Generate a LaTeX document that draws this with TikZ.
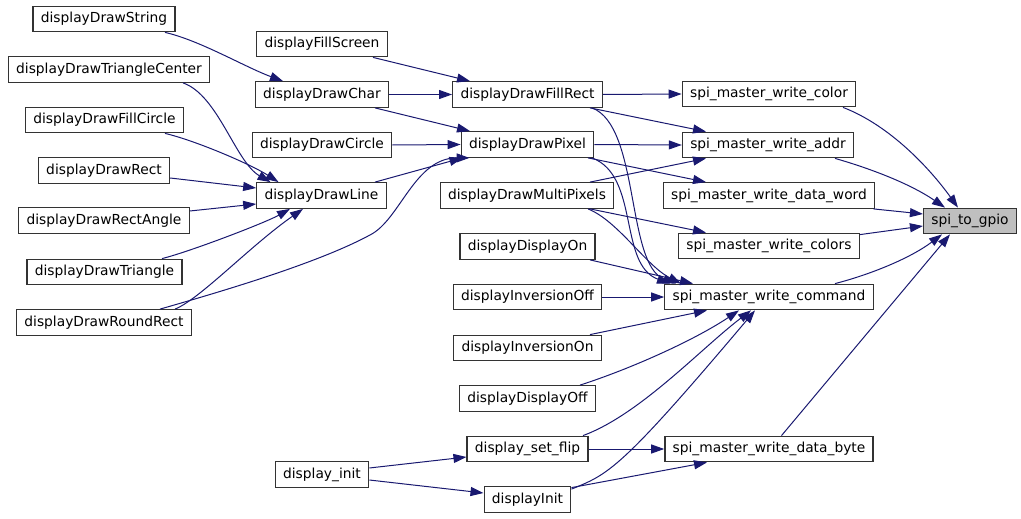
\documentclass[tikz,border=0pt]{standalone}
\usepackage{fontspec}
\setmainfont{DejaVu Sans}
\usepackage{tikz}
\usetikzlibrary{arrows.meta, positioning}
\definecolor{edgeblue}{HTML}{191970}
\definecolor{boxline}{HTML}{333333}
\definecolor{rootfill}{HTML}{BFBFBF}
\tikzstyle{fn} = [rectangle, draw=boxline, line width=1.3pt, fill=white, minimum height=25.5pt, inner xsep=7.8pt, inner ysep=0pt, font=\fontsize{13.8}{16}\selectfont, text centered]
\tikzstyle{root} = [fn, fill=rootfill]
\tikzstyle{arrow} = [draw=edgeblue, line width=1pt, -{Triangle[length=13pt,width=9pt]}, edgeblue]

\begin{document}
\begin{tikzpicture}[x=1pt, y=-1pt]
        \useasboundingbox (0,0) rectangle (1021,519);

        % Kolom 1: pemanggil paling luar
        \node (dstr) [fn] at (104,19) {displayDrawString};
        \node (dtric) [fn] at (109,69.5) {displayDrawTriangleCenter};
        \node (dfcirc) [fn] at (104.5,120) {displayDrawFillCircle};
        \node (drect) [fn] at (104,170.5) {displayDrawRect};
        \node (drang) [fn] at (104,220.5) {displayDrawRectAngle};
        \node (dtri) [fn] at (104.5,272) {displayDrawTriangle};
        \node (drrect) [fn] at (104,322.5) {displayDrawRoundRect};

        % Kolom 2
        \node (fscr) [fn] at (322,44) {displayFillScreen};
        \node (dchar) [fn] at (322,94.5) {displayDrawChar};
        \node (dcirc) [fn] at (322,145) {displayDrawCircle};
        \node (dline) [fn] at (321.5,195.5) {displayDrawLine};
        \node (dispinit) [fn] at (322,474.5) {display\_init};

        % Kolom 3
        \node (frect) [fn] at (527.5,94.5) {displayDrawFillRect};
        \node (dpix) [fn] at (527.5,144.5) {displayDrawPixel};
        \node (dmpix) [fn] at (527,195.5) {displayDrawMultiPixels};
        \node (don) [fn] at (527.5,246.5) {displayDisplayOn};
        \node (invoff) [fn] at (527.5,297) {displayInversionOff};
        \node (invon) [fn] at (527.5,348) {displayInversionOn};
        \node (doff) [fn] at (527.5,398.5) {displayDisplayOff};
        \node (sflip) [fn] at (527.5,449) {display\_set\_flip};
        \node (dinit) [fn] at (527.5,499.5) {displayInit};

        % Kolom 4: fungsi SPI
        \node (wcolor) [fn] at (769,94) {spi\_master\_write\_color};
        \node (waddr) [fn] at (768,145) {spi\_master\_write\_addr};
        \node (wword) [fn] at (769,195.5) {spi\_master\_write\_data\_word};
        \node (wcolors) [fn] at (769,246) {spi\_master\_write\_colors};
        \node (wcmd) [fn] at (769,297) {spi\_master\_write\_command};
        \node (wbyte) [fn] at (769,449) {spi\_master\_write\_data\_byte};

        % Kolom 5: fungsi akhir
        \node (gpio) [root] at (970,221) {spi\_to\_gpio};

        % Garis Panah kolom 1 -> kolom 2
        \draw [arrow] ([xshift=61pt]dstr.south) .. controls +(35,8) and +(-38,-14) .. ([xshift=-39pt]dchar.north);
        \draw [arrow] ([xshift=74pt]dtric.south) .. controls +(35,12) and +(-35,-20) .. ([xshift=-51pt]dline.north);
        \draw [arrow] ([xshift=60.5pt]dfcirc.south) .. controls +(30,7) and +(-28,-18) .. ([xshift=-43pt]dline.north);
        \draw [arrow] ([yshift=-7.5pt]drect.east) -- ([yshift=7.5pt]dline.west);
        \draw [arrow] ([yshift=9.5pt]drang.east) -- ([yshift=-8.5pt]dline.west);
        \draw [arrow] ([xshift=57.5pt]dtri.north) .. controls +(28,-7) and +(-25,14) .. ([xshift=-31.5pt]dline.south);
        \draw [arrow] ([xshift=71pt]drrect.north) .. controls +(25,-10) and +(-53,37) .. ([xshift=-18.5pt]dline.south);
        \draw [arrow] ([xshift=56pt]drrect.north) .. controls +(70,-20) and +(-50,27) .. (370,235) .. controls +(30,-15) and +(-55,0) .. ([xshift=-58pt]dpix.south);

        % Garis Panah kolom 2 -> kolom 3
        \draw [arrow] ([xshift=51pt]fscr.south) -- ([xshift=-57.5pt]frect.north);
        \draw [arrow] (dchar.east) -- (frect.west);
        \draw [arrow] ([xshift=53pt]dchar.south) -- ([xshift=-57.5pt]dpix.north);
        \draw [arrow] (dcirc.east) -- (dpix.west);
        \draw [arrow] ([xshift=53.5pt]dline.north) -- ([xshift=-65pt]dpix.south);
        \draw [arrow] ([yshift=6.5pt]dispinit.east) -- ([yshift=-8pt]sflip.west);
        \draw [arrow] ([yshift=-5.5pt]dispinit.east) -- ([yshift=6.5pt]dinit.west);

        % Garis Panah kolom 3 -> kolom 4
        \draw [arrow] (frect.east) -- (wcolor.west);
        \draw [arrow] ([xshift=62.5pt]frect.south) -- ([xshift=-62pt]waddr.north);
        \draw [arrow] ([xshift=64.5pt]frect.south) .. controls +(48,18) and +(-50,-19) .. ([xshift=-93pt]wcmd.north);
        \draw [arrow] (dpix.east) -- (waddr.west);
        \draw [arrow] ([xshift=60.5pt]dpix.south) -- ([xshift=-63pt]wword.north);
        \draw [arrow] ([xshift=64.5pt]dpix.south) .. controls +(48,18) and +(-52,-19) .. ([xshift=-99pt]wcmd.north);
        \draw [arrow] ([xshift=63pt]dmpix.north) -- ([xshift=-62pt]waddr.south);
        \draw [arrow] ([xshift=63pt]dmpix.south) -- ([xshift=-63pt]wcolors.north);
        \draw [arrow] ([xshift=61pt]dmpix.south) .. controls +(30,12) and +(-35,-18) .. ([xshift=-88pt]wcmd.north);
        \draw [arrow] ([xshift=62.5pt]don.south) -- ([xshift=-76pt]wcmd.north);
        \draw [arrow] (invoff.east) -- (wcmd.west);
        \draw [arrow] ([xshift=62.5pt]invon.north) -- ([xshift=-62pt]wcmd.south);
        \draw [arrow] ([xshift=52.5pt]doff.north) .. controls +(50,-16) and +(-45,30) .. ([xshift=-30pt]wcmd.south);
        \draw [arrow] ([xshift=55.5pt]sflip.north) .. controls +(57,-21) and +(-50,38) .. ([xshift=-18pt]wcmd.south);
        \draw [arrow] (sflip.east) -- (wbyte.west);
        \draw [arrow] ([yshift=-3pt]dinit.north east) .. controls +(37,-15) and +(-135,160) .. ([xshift=-14pt]wcmd.south);
        \draw [arrow] ([yshift=-1.5pt]dinit.north east) -- ([xshift=-62pt]wbyte.south);

        % Garis Panah kolom 4 -> spi_to_gpio
        \draw [arrow] ([xshift=74pt]wcolor.south) .. controls +(47,18) and +(-28,-39) .. ([xshift=-12pt]gpio.north);
        \draw [arrow] ([xshift=67pt]waddr.south) .. controls +(35,10) and +(-35,-24) .. ([xshift=-25pt]gpio.north);
        \draw [arrow] ([xshift=-2pt]wword.south east) -- ([yshift=7pt]gpio.west);
        \draw [arrow] ([yshift=-2pt]wcolors.north east) -- ([yshift=-5pt]gpio.west);
        \draw [arrow] ([xshift=66pt]wcmd.north) .. controls +(35,-9) and +(-32,24) .. ([xshift=-28pt]gpio.south);
        \draw [arrow] ([xshift=12.5pt]wbyte.north) -- ([xshift=-20pt]gpio.south);
    \end{tikzpicture}
\end{document}
